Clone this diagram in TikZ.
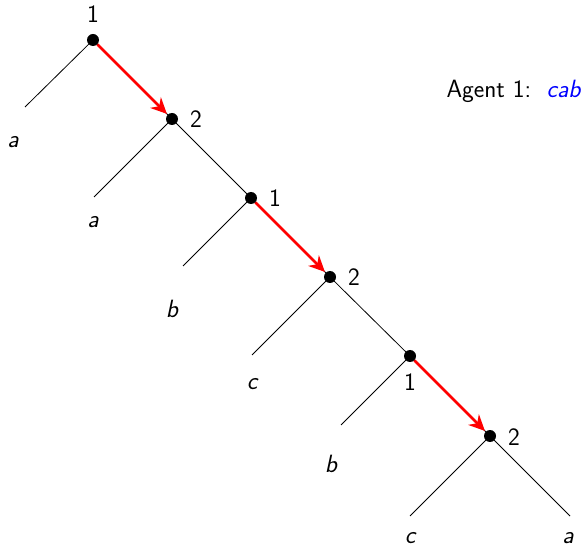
\documentclass[tikz,border=0pt]{standalone}
\usetikzlibrary{arrows.meta}
\begin{document}
\begin{tikzpicture}[x=1pt,y=-1pt,
  every node/.style={font=\fontsize{25}{29}\selectfont\sffamily},
  dot/.style={circle,fill=black,inner sep=0pt,minimum size=12pt},
  edge/.style={line width=0.8pt,black},
  choice/.style={line width=2.6pt,red,-{Stealth[length=16pt,width=15pt]},shorten >=1pt},
  leaf/.style={font=\fontsize{25}{29}\selectfont\sffamily\itshape}]
\useasboundingbox (0,0) rectangle (587,548);
\node[dot] (n1) at (93,40) {};
\node[dot] (n2) at (172,119) {};
\node[dot] (n3) at (251,198) {};
\node[dot] (n4) at (330,277) {};
\node[dot] (n5) at (410,356) {};
\node[dot] (n6) at (490,436) {};
\coordinate (l1) at (25,107);
\coordinate (l2) at (94,197);
\coordinate (l3) at (183,266);
\coordinate (l4) at (252,355);
\coordinate (l5) at (341,425);
\coordinate (l6) at (410,516);
\coordinate (r6) at (570,516);
\node (t1) at (93,14) {1};
\node (t2) at (196,119) {2};
\node (t3) at (275,198) {1};
\node (t4) at (354,277) {2};
\node (t5) at (410,382) {1};
\node (t6) at (514,437) {2};
\node[leaf] (a1) at (13,142) {a};
\node[leaf] (a2) at (93,222) {a};
\node[leaf] (a3) at (172,309) {b};
\node[leaf] (a4) at (252,384) {c};
\node[leaf] (a5) at (331,464) {b};
\node[leaf] (a6) at (410,538) {c};
\node[leaf] (a7) at (568,538) {a};
\node[anchor=west] (ag) at (443,91) {Agent 1:\ \ \textcolor{blue}{\itshape cab}};
\draw[edge] (n1.center) -- (l1);
\draw[edge] (n2.center) -- (l2);
\draw[edge] (n3.center) -- (l3);
\draw[edge] (n4.center) -- (l4);
\draw[edge] (n5.center) -- (l5);
\draw[edge] (n6.center) -- (l6);
\draw[edge] (n6.center) -- (r6);
\draw[edge] (n1.center) -- (n2.center);
\draw[edge] (n2.center) -- (n3.center);
\draw[edge] (n3.center) -- (n4.center);
\draw[edge] (n4.center) -- (n5.center);
\draw[edge] (n5.center) -- (n6.center);
\draw[choice] (n1) -- (n2);
\draw[choice] (n3) -- (n4);
\draw[choice] (n5) -- (n6);
\end{tikzpicture}
\end{document}
